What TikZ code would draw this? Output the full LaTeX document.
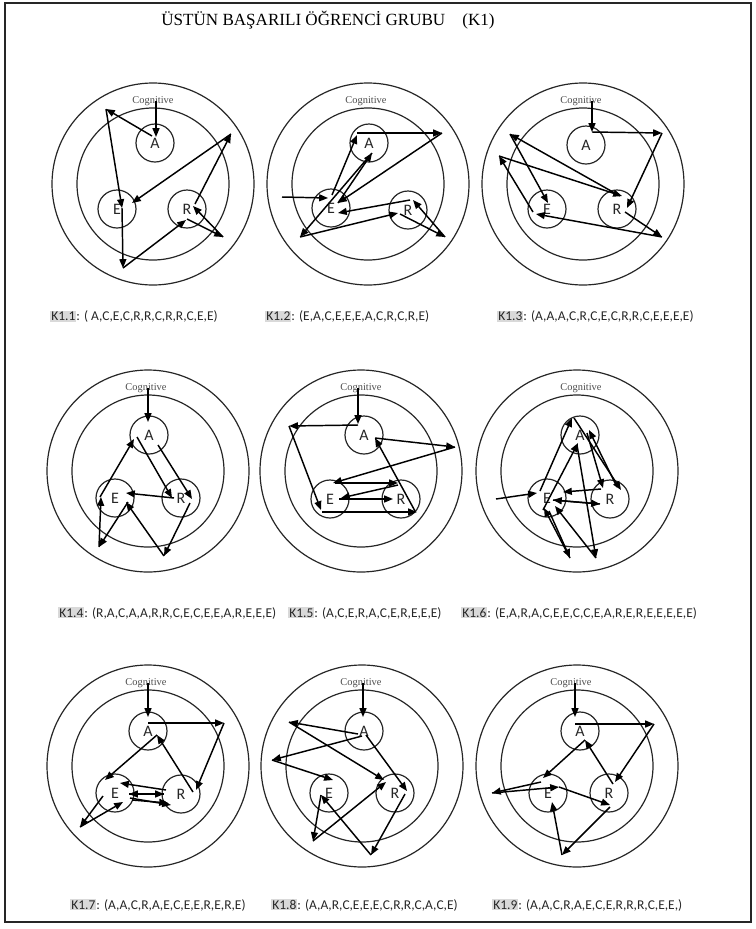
\documentclass[tikz,border=0pt]{standalone}
\usepackage{fontspec}
\setmainfont{Liberation Serif}
\newfontfamily\calibri{Carlito}
\usepackage{xcolor}
\usepackage{tikz}
\usetikzlibrary{calc,arrows.meta}

\definecolor{hlgray}{HTML}{D9D9D9}
\newcommand{\seqtag}[1]{{\setlength{\fboxsep}{0.8pt}\colorbox{hlgray}{#1}}}

\begin{document}
\begin{tikzpicture}[x=0.75pt, y=0.75pt,
    ring/.style={draw=black!85, line width=0.9pt},
    spot/.style={circle, draw=black!85, line width=0.9pt, minimum size=28.5pt, inner sep=0pt,
      text=black!85, font=\calibri\fontsize{12}{12}\selectfont},
    cogn/.style={text=black!70, inner sep=0pt, font=\fontsize{7.8}{8}\selectfont},
    flow/.style={line width=1.1pt, -{Triangle[length=6.6pt, width=5.2pt]}},
    seq/.style={anchor=west, inner sep=0pt, text=black!85, font=\calibri\fontsize{10.1}{12}\selectfont}]
  \useasboundingbox (0,0) rectangle (756,-929);
  \draw[line width=1.5pt, black!85] (5,-3) rectangle (751,-922);
  \node[font=\fontsize{12.8}{14}\selectfont] (title) at (328,-20) {ÜSTÜN BAŞARILI ÖĞRENCİ GRUBU\quad(K1)};

  % K1.1
  \begin{scope}[shift={(153,-184)}]
    \draw[ring] (0,0) circle (101) (0,0) circle (76);
    \node[cogn] (cog1) at (0,83) {Cognitive};
    \node[spot] (a1) at (2,41) {A};
    \node[spot] (e1) at (-36,-25) {E};
    \node[spot] (r1) at (34,-25) {R};
    \coordinate (ul1) at (-47,75);
    \coordinate (bm1) at (-30,-84);
    \coordinate (lr1) at (70,-53);
    \coordinate (ur1) at (78,50);
    \draw[flow] ($(cog1)+(3,0)$) -- ($(a1)+(1,6)$);
    \draw[flow] ($(a1)+(-3,7)$) -- (ul1);
    \draw[flow] (ul1) -- ($(e1)+(5,1)$);
    \draw[flow] ($(e1)+(5,1)$) -- (bm1);
    \draw[flow] (bm1) -- ($(r1)+(-1,-11)$);
    \draw[flow] ($(r1)+(0,-10)$) -- (lr1);
    \draw[flow] (lr1) -- ($(r1)+(6,3)$);
    \draw[flow] ($(r1)+(8,5)$) -- (ur1);
    \draw[flow] (ur1) -- ($(e1)+(15,6)$);
  \end{scope}

  % K1.2
  \begin{scope}[shift={(368,-184)}]
    \draw[ring] (0,0) circle (101) (0,0) circle (76);
    \node[cogn] (cog2) at (-2,83) {Cognitive};
    \node[spot] (a2) at (1,41) {A};
    \node[spot] (e2) at (-37,-24) {E};
    \node[spot] (r2) at (40,-26) {R};
    \coordinate (lp2) at (-86,-13);
    \coordinate (rp2) at (74,51);
    \coordinate (bl2) at (-68,-53);
    \coordinate (lr2) at (77,-53);
    \draw[flow] (lp2) -- ($(e2)+(-3,10)$);
    \draw[flow] ($(e2)+(1,13)$) -- ($(a2)+(-12,8)$);
    \draw[flow] ($(a2)+(-12,10)$) -- (rp2);
    \draw[flow] (rp2) -- ($(e2)+(7,5)$);
    \draw[flow] ($(e2)+(7,5)$) -- ($(a2)+(3,-10)$);
    \draw[flow] ($(a2)+(3,-10)$) -- (bl2);
    \draw[flow] (bl2) -- ($(r2)+(-10,-3)$);
    \draw[flow] ($(r2)+(-8,-4)$) -- (lr2);
    \draw[flow] (lr2) -- ($(r2)+(5,10)$);
    \draw[flow] ($(r2)+(2,10)$) -- ($(e2)+(7,-5)$);
  \end{scope}

  % K1.3
  \begin{scope}[shift={(583,-184)}]
    \draw[ring] (0,0) circle (101) (0,0) circle (76);
    \node[cogn] (cog3) at (-2,83) {Cognitive};
    \node[spot] (a3) at (3,39) {A};
    \node[spot] (e3) at (-36,-25) {E};
    \node[spot] (r3) at (34,-25) {R};
    \coordinate (rp3) at (79,51);
    \coordinate (ul3) at (-73,50);
    \coordinate (fl3) at (-84,28);
    \coordinate (lr3) at (79,-53);
    \draw[flow] ($(cog3)+(11,0)$) -- ($(a3)+(6,13)$);
    \draw[flow] ($(a3)+(6,13)$) -- (rp3);
    \draw[flow] (rp3) -- ($(r3)+(10,1)$);
    \draw[flow] ($(r3)+(3,13)$) -- (ul3);
    \draw[flow] (ul3) -- ($(e3)+(1,6)$);
    \draw[flow] ($(e3)+(-14,-3)$) -- (fl3);
    \draw[flow] (fl3) -- ($(r3)+(5,13)$);
    \draw[flow] ($(r3)+(8,-3)$) -- (lr3);
    \draw[flow] (lr3) -- ($(e3)+(-11,-5)$);
  \end{scope}

  % K1.4
  \begin{scope}[shift={(148,-471)}]
    \draw[ring] (0,0) circle (101) (0,0) circle (76);
    \node[cogn] (cog4) at (-2,83) {Cognitive};
    \node[spot] (a4) at (1,36) {A};
    \node[spot] (e4) at (-33,-27) {E};
    \node[spot] (r4) at (33,-27) {R};
    \coordinate (bm4) at (16,-85);
    \coordinate (bl4) at (-49,-76);
    \draw[flow] ($(cog4)+(2,0)$) -- ($(a4)+(-1,13)$);
    \draw[flow] ($(a4)+(-12,-2)$) -- ($(r4)+(-9,0)$);
    \draw[flow] ($(r4)+(-7,0)$) -- ($(e4)+(11,5)$);
    \draw[flow] ($(e4)+(-15,1)$) -- ($(a4)+(-15,-4)$);
    \draw[flow] ($(a4)+(9,-10)$) -- ($(r4)+(11,-1)$);
    \draw[flow] ($(r4)+(9,-5)$) -- (bm4);
    \draw[flow] (bm4) -- ($(e4)+(11,-4)$);
    \draw[flow] ($(e4)+(13,-4)$) -- (bl4);
    \draw[flow] (bl4) -- ($(e4)+(-14,1)$);
  \end{scope}

  % K1.5
  \begin{scope}[shift={(361,-471)}]
    \draw[ring] (0,0) circle (101) (0,0) circle (76);
    \node[cogn] (cog5) at (0,83) {Cognitive};
    \node[spot] (a5) at (3,36) {A};
    \node[spot] (e5) at (-31,-28) {E};
    \node[spot] (r5) at (40,-28) {R};
    \coordinate (ul5) at (-72,45);
    \coordinate (rp5) at (94,24);
    \draw[flow] ($(cog5)+(-3,0)$) -- ($(a5)+(-6,11)$);
    \draw[flow] ($(a5)+(-6,10)$) -- (ul5);
    \draw[flow] (ul5) -- ($(e5)+(-9,-11)$);
    \draw[flow] ($(e5)+(-8,-13)$) -- ($(r5)+(16,-13)$);
    \draw[flow] ($(r5)+(14,-12)$) -- ($(a5)+(11,-3)$);
    \draw[flow] ($(a5)+(11,-3)$) -- (rp5);
    \draw[flow] (rp5) -- ($(e5)+(3,16)$);
    \draw[flow] ($(e5)+(5,16)$) -- ($(r5)+(-3,16)$);
    \draw[flow] ($(r5)+(-3,14)$) -- ($(e5)+(11,1)$);
    \draw[flow] ($(e5)+(9,0)$) -- ($(r5)+(-8,0)$);
  \end{scope}

  % K1.6
  \begin{scope}[shift={(577,-471)}]
    \draw[ring] (0,0) circle (101) (0,0) circle (76);
    \node[cogn] (cog6) at (4,83) {Cognitive};
    \node[spot] (a6) at (3,36) {A};
    \node[spot] (e6) at (-30,-27) {E};
    \node[spot] (r6) at (33,-28) {R};
    \coordinate (lp6) at (-81,-28);
    \coordinate (bl6) at (-7,-87);
    \coordinate (br6) at (19,-87);
    \draw[flow] (lp6) -- ($(e6)+(-10,5)$);
    \draw[flow] ($(e6)+(-7,7)$) -- ($(a6)+(-8,17)$);
    \draw[flow] ($(a6)+(-6,17)$) -- ($(r6)+(11,9)$);
    \draw[flow] ($(r6)+(7,12)$) -- ($(a6)+(9,5)$);
    \draw[flow] ($(a6)+(7,2)$) -- ($(r6)+(-7,11)$);
    \draw[flow] ($(r6)+(-9,10)$) -- ($(e6)+(16,6)$);
    \draw[flow] ($(e6)+(6,-2)$) -- ($(r6)+(-10,-5)$);
    \draw[flow] ($(r6)+(-10,-5)$) -- ($(e6)+(6,-2)$);
    \draw[flow] ($(e6)+(-4,-12)$) -- ($(a6)+(-2,-8)$);
    \draw[flow] ($(a6)+(-3,-10)$) -- (br6);
    \draw[flow] ($(e6)+(2,-13)$) -- (bl6);
    \draw[flow] (bl6) -- ($(e6)+(-3,-10)$);
    \draw[flow] (br6) -- ($(e6)+(8,-8)$);
  \end{scope}

  % K1.7
  \begin{scope}[shift={(148,-766)}]
    \draw[ring] (0,0) circle (101) (0,0) circle (76);
    \node[cogn] (cog7) at (-2,83) {Cognitive};
    \node[spot] (a7) at (0,35) {A};
    \node[spot] (e7) at (-33,-27) {E};
    \node[spot] (r7) at (33,-28) {R};
    \coordinate (rp7) at (76,43);
    \coordinate (bl7) at (-68,-61);
    \draw[flow] ($(cog7)+(2,0)$) -- ($(a7)+(0,14)$);
    \draw[flow] ($(a7)+(0,8)$) -- (rp7);
    \draw[flow] (rp7) -- ($(r7)+(15,4)$);
    \draw[flow] ($(r7)+(12,2)$) -- ($(a7)+(9,-4)$);
    \draw[flow] ($(a7)+(9,-4)$) -- ($(e7)+(-10,13)$);
    \draw[flow] ($(e7)+(-12,-3)$) -- (bl7);
    \draw[flow] (bl7) -- ($(e7)+(8,-9)$);
    \draw[flow] ($(e7)+(14,-1)$) -- ($(r7)+(-17,0)$);
    \draw[flow] ($(r7)+(-17,0)$) -- ($(e7)+(14,-1)$);
    \draw[flow] ($(e7)+(15,-5)$) -- ($(r7)+(-10,-11)$);
    \draw[flow] ($(r7)+(-15,4)$) -- ($(e7)+(5,10)$);
    \draw[flow] ($(e7)+(17,-7)$) -- ($(r7)+(-13,-9)$);
  \end{scope}

  % K1.8
  \begin{scope}[shift={(362,-766)}]
    \draw[ring] (0,0) circle (101) (0,0) circle (76);
    \node[cogn] (cog8) at (-1,83) {Cognitive};
    \node[spot] (a8) at (2,35) {A};
    \node[spot] (e8) at (-33,-27) {E};
    \node[spot] (r8) at (33,-27) {R};
    \coordinate (ul8) at (-73,44);
    \coordinate (fl8) at (-90,6);
    \coordinate (bl8) at (-49,-75);
    \coordinate (bm8) at (9,-89);
    \draw[flow] ($(cog8)+(2,0)$) -- ($(a8)+(-1,14)$);
    \draw[flow] ($(a8)+(-6,-3)$) -- (ul8);
    \draw[flow] (ul8) -- ($(r8)+(-11,13)$);
    \draw[flow] ($(a8)+(-2,-5)$) -- (fl8);
    \draw[flow] (fl8) -- ($(e8)+(4,13)$);
    \draw[flow] ($(e8)+(-8,-2)$) -- (bl8);
    \draw[flow] (bl8) -- ($(r8)+(-9,11)$);
    \draw[flow] ($(a8)+(2,-4)$) -- ($(r8)+(12,2)$);
    \draw[flow] ($(r8)+(10,-1)$) -- (bm8);
    \draw[flow] (bm8) -- ($(e8)+(-8,-2)$);
  \end{scope}

  % K1.9
  \begin{scope}[shift={(577,-766)}]
    \draw[ring] (0,0) circle (101) (0,0) circle (76);
    \node[cogn] (cog9) at (-6,83) {Cognitive};
    \node[spot] (a9) at (3,35) {A};
    \node[spot] (e9) at (-29,-27) {E};
    \node[spot] (r9) at (32,-27) {R};
    \coordinate (rp9) at (77,42);
    \coordinate (fl9) at (-85,-27);
    \coordinate (bm9) at (-15,-89);
    \draw[flow] ($(cog9)+(4,0)$) -- ($(a9)+(-5,14)$);
    \draw[flow] ($(a9)+(-5,7)$) -- (rp9);
    \draw[flow] (rp9) -- ($(r9)+(6,11)$);
    \draw[flow] ($(r9)+(4,9)$) -- ($(a9)+(5,-9)$);
    \draw[flow] ($(a9)+(5,-9)$) -- ($(e9)+(-5,15)$);
    \draw[flow] ($(e9)+(-7,11)$) -- (fl9);
    \draw[flow] (fl9) -- ($(e9)+(11,6)$);
    \draw[flow] ($(e9)+(11,6)$) -- ($(r9)+(1,-12)$);
    \draw[flow] ($(r9)+(1,-14)$) -- (bm9);
    \draw[flow] (bm9) -- ($(e9)+(4,-9)$);
  \end{scope}

  % sequences
  \node[seq] (lab1) at (50,-317) {\seqtag{K1.1}: ( A,C,E,C,R,R,C,R,R,C,E,E)};
  \node[seq] (lab2) at (265,-317) {\seqtag{K1.2}: (E,A,C,E,E,E,A,C,R,C,R,E)};
  \node[seq] (lab3) at (497,-317) {\seqtag{K1.3}: (A,A,A,C,R,C,E,C,R,R,C,E,E,E,E)};
  \node[seq] (lab4) at (58,-613) {\seqtag{K1.4}: (R,A,C,A,A,R,R,C,E,C,E,E,A,R,E,E,E)};
  \node[seq] (lab5) at (288,-613) {\seqtag{K1.5}: (A,C,E,R,A,C,E,R,E,E,E)};
  \node[seq] (lab6) at (461,-613) {\seqtag{K1.6}: (E,A,R,A,C,E,E,C,C,E,A,R,E,R,E,E,E,E,E)};
  \node[seq] (lab7) at (70,-905) {\seqtag{K1.7}: (A,A,C,R,A,E,C,E,E,R,E,R,E)};
  \node[seq] (lab8) at (271,-905) {\seqtag{K1.8}: (A,A,R,C,E,E,E,C,R,R,C,A,C,E)};
  \node[seq] (lab9) at (492,-905) {\seqtag{K1.9}: (A,A,C,R,A,E,C,E,R,R,R,C,E,E,)};
\end{tikzpicture}
\end{document}
